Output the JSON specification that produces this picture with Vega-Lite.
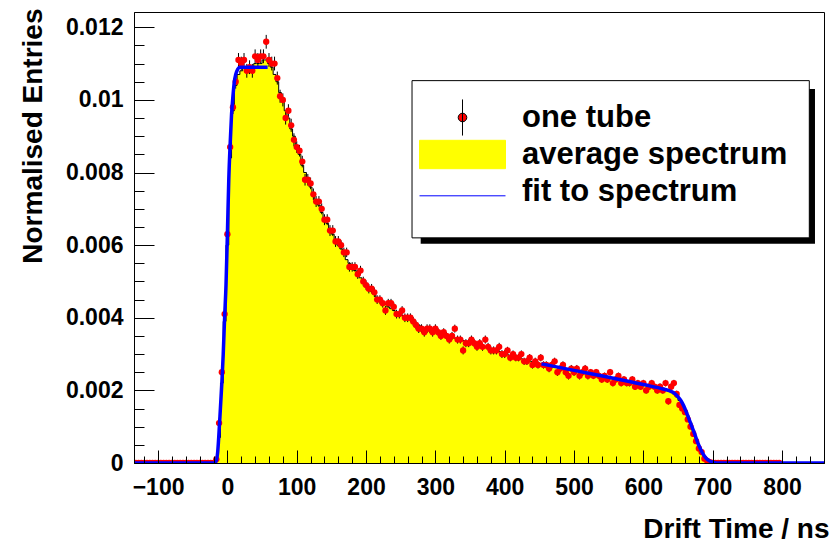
{
"$schema":"https://vega.github.io/schema/vega-lite/v6.json",
"width":690,"height":451,
"autosize":{"type":"none"},
"padding":{"left":134,"top":12,"right":12,"bottom":82},
"background":"white",
"config":{"view":{"stroke":"#000","strokeWidth":1},"font":"Liberation Sans",
 "legend":{"title":null,"orient":"none","legendX":285,"legendY":87,"padding":0,"symbolSize":7396,"symbolStrokeWidth":1,"clipHeight":37,"rowPadding":0,"labelOffset":16,"labelFont":"Liberation Sans","labelFontWeight":"bold","labelFontSize":31,"labelColor":"#000","labelLimit":600}},
"datasets":{
"hist":[
{"t":-132,"a":0},{"t":-128,"a":0},{"t":-124,"a":0},{"t":-120,"a":0},{"t":-116,"a":0},{"t":-112,"a":0},{"t":-108,"a":0},{"t":-104,"a":0},{"t":-100,"a":0},{"t":-96,"a":0},{"t":-92,"a":0},{"t":-88,"a":0},{"t":-84,"a":0},{"t":-80,"a":0},{"t":-76,"a":0},{"t":-72,"a":0},{"t":-68,"a":0},{"t":-64,"a":0},{"t":-60,"a":0},{"t":-56,"a":0},{"t":-52,"a":0},{"t":-48,"a":0},{"t":-44,"a":0},{"t":-40,"a":0},{"t":-36,"a":0},{"t":-32,"a":0},{"t":-28,"a":0},{"t":-24,"a":0},{"t":-20,"a":0},
{"t":-16,"a":0.00004},{"t":-12,"a":0.0007},{"t":-8,"a":0.0022},{"t":-4,"a":0.0039},{"t":0,"a":0.006},{"t":4,"a":0.0084},{"t":8,"a":0.0097},{"t":12,"a":0.0104},{"t":16,"a":0.0107},{"t":20,"a":0.0108},{"t":24,"a":0.0109},{"t":28,"a":0.0108},{"t":32,"a":0.0109},{"t":36,"a":0.0109},{"t":40,"a":0.011},{"t":44,"a":0.011},{"t":48,"a":0.011},{"t":52,"a":0.0111},{"t":56,"a":0.0111},{"t":60,"a":0.011},{"t":64,"a":0.0109},{"t":68,"a":0.0107},{"t":72,"a":0.0105},{"t":76,"a":0.0102},{"t":80,"a":0.01},{"t":84,"a":0.0097},{"t":88,"a":0.0095},{"t":92,"a":0.0092},{"t":96,"a":0.009},{"t":100,"a":0.0087},{"t":104,"a":0.0085},{"t":108,"a":0.0082},{"t":112,"a":0.008},{"t":116,"a":0.0078},{"t":120,"a":0.0076},{"t":124,"a":0.0074},{"t":128,"a":0.0072},{"t":132,"a":0.0071},{"t":136,"a":0.0069},{"t":140,"a":0.0067},{"t":144,"a":0.0066},{"t":148,"a":0.0064},{"t":152,"a":0.0063},{"t":156,"a":0.0061},{"t":160,"a":0.006},{"t":164,"a":0.0059},{"t":168,"a":0.0058},{"t":172,"a":0.0056},{"t":176,"a":0.0055},{"t":180,"a":0.0054},{"t":184,"a":0.0053},{"t":188,"a":0.0052},{"t":192,"a":0.0051},{"t":196,"a":0.005},
{"t":200,"a":0.0049},{"t":204,"a":0.0048},{"t":208,"a":0.00472},{"t":212,"a":0.00464},{"t":216,"a":0.00456},{"t":220,"a":0.00449},{"t":224,"a":0.00442},{"t":228,"a":0.00436},{"t":232,"a":0.0043},{"t":236,"a":0.00425},{"t":240,"a":0.0042},{"t":244,"a":0.00415},{"t":248,"a":0.0041},{"t":252,"a":0.00406},{"t":256,"a":0.00403},{"t":260,"a":0.004},{"t":264,"a":0.00395},{"t":268,"a":0.0039},{"t":272,"a":0.00384},{"t":276,"a":0.0038},{"t":280,"a":0.00376},{"t":284,"a":0.00372},{"t":288,"a":0.00369},{"t":292,"a":0.00366},{"t":296,"a":0.00364},{"t":300,"a":0.00362},{"t":304,"a":0.0036},{"t":308,"a":0.00357},{"t":312,"a":0.00355},{"t":316,"a":0.00352},{"t":320,"a":0.0035},{"t":324,"a":0.00347},{"t":328,"a":0.00344},{"t":332,"a":0.00342},{"t":336,"a":0.0034},{"t":340,"a":0.00337},{"t":344,"a":0.00335},{"t":348,"a":0.00333},{"t":352,"a":0.0033},{"t":356,"a":0.00328},{"t":360,"a":0.00326},{"t":364,"a":0.00324},{"t":368,"a":0.00322},{"t":372,"a":0.0032},{"t":376,"a":0.00318},{"t":380,"a":0.00315},{"t":384,"a":0.00312},{"t":388,"a":0.0031},{"t":392,"a":0.00307},{"t":396,"a":0.00304},
{"t":400,"a":0.00301},{"t":404,"a":0.00298},{"t":408,"a":0.00296},{"t":412,"a":0.00294},{"t":416,"a":0.00291},{"t":420,"a":0.00289},{"t":424,"a":0.00287},{"t":428,"a":0.00285},{"t":432,"a":0.00283},{"t":436,"a":0.00281},{"t":440,"a":0.00279},{"t":444,"a":0.00277},{"t":448,"a":0.00275},{"t":452,"a":0.00273},{"t":456,"a":0.00272},{"t":460,"a":0.0027},{"t":464,"a":0.00269},{"t":468,"a":0.00267},{"t":472,"a":0.00265},{"t":476,"a":0.00264},{"t":480,"a":0.00262},{"t":484,"a":0.00261},{"t":488,"a":0.00259},{"t":492,"a":0.00257},{"t":496,"a":0.00256},{"t":500,"a":0.00254},{"t":504,"a":0.00253},{"t":508,"a":0.00251},{"t":512,"a":0.00249},{"t":516,"a":0.00248},{"t":520,"a":0.00246},{"t":524,"a":0.00245},{"t":528,"a":0.00243},{"t":532,"a":0.00241},{"t":536,"a":0.0024},{"t":540,"a":0.00238},{"t":544,"a":0.00237},{"t":548,"a":0.00235},{"t":552,"a":0.00233},{"t":556,"a":0.00232},{"t":560,"a":0.0023},{"t":564,"a":0.00229},{"t":568,"a":0.00227},{"t":572,"a":0.00225},{"t":576,"a":0.00224},{"t":580,"a":0.00222},{"t":584,"a":0.00221},{"t":588,"a":0.00219},{"t":592,"a":0.00217},{"t":596,"a":0.00216},
{"t":600,"a":0.00214},{"t":604,"a":0.00213},{"t":608,"a":0.00211},{"t":612,"a":0.00209},{"t":616,"a":0.00208},{"t":620,"a":0.00206},{"t":624,"a":0.00205},{"t":628,"a":0.00203},{"t":632,"a":0.00201},{"t":636,"a":0.002},{"t":640,"a":0.00196},{"t":644,"a":0.0019},{"t":648,"a":0.00182},{"t":652,"a":0.00172},{"t":656,"a":0.0016},{"t":660,"a":0.00146},{"t":664,"a":0.0013},{"t":668,"a":0.00111},{"t":672,"a":0.0009},{"t":676,"a":0.00068},{"t":680,"a":0.00046},{"t":684,"a":0.00027},{"t":688,"a":0.00013},{"t":692,"a":0.00005},{"t":696,"a":0.00002},
{"t":700,"a":0},{"t":704,"a":0},{"t":708,"a":0},{"t":712,"a":0},{"t":716,"a":0},{"t":720,"a":0},{"t":724,"a":0},{"t":728,"a":0},{"t":732,"a":0},{"t":736,"a":0},{"t":740,"a":0},{"t":744,"a":0},{"t":748,"a":0},{"t":752,"a":0},{"t":756,"a":0},{"t":760,"a":0},{"t":764,"a":0},{"t":768,"a":0},{"t":772,"a":0},{"t":776,"a":0},{"t":780,"a":0},{"t":784,"a":0},{"t":788,"a":0},{"t":792,"a":0},{"t":796,"a":0},{"t":800,"a":0},{"t":804,"a":0},{"t":808,"a":0},{"t":812,"a":0},{"t":816,"a":0},{"t":820,"a":0},{"t":824,"a":0},{"t":828,"a":0},{"t":832,"a":0},{"t":836,"a":0},{"t":840,"a":0},{"t":844,"a":0},{"t":848,"a":0},{"t":852,"a":0},{"t":856,"a":0},{"t":860,"a":0}
],
"tube":[
{"t":-132,"o":0,"e":0},{"t":-128,"o":0,"e":0},{"t":-124,"o":0,"e":0},{"t":-120,"o":0,"e":0},{"t":-116,"o":0,"e":0},{"t":-112,"o":0,"e":0},{"t":-108,"o":0,"e":0},{"t":-104,"o":0,"e":0},{"t":-100,"o":0,"e":0},{"t":-96,"o":0,"e":0},{"t":-92,"o":0,"e":0},{"t":-88,"o":0,"e":0},{"t":-84,"o":0,"e":0},{"t":-80,"o":0,"e":0},{"t":-76,"o":0,"e":0},{"t":-72,"o":0,"e":0},{"t":-68,"o":0,"e":0},{"t":-64,"o":0,"e":0},{"t":-60,"o":0,"e":0},{"t":-56,"o":0,"e":0},{"t":-52,"o":0,"e":0},{"t":-48,"o":0,"e":0},{"t":-44,"o":0,"e":0},{"t":-40,"o":0,"e":0},{"t":-36,"o":0,"e":0},{"t":-32,"o":0,"e":0},{"t":-28,"o":0,"e":0},{"t":-24,"o":0,"e":0},{"t":-20,"o":0,"e":0},
{"t":-16,"o":0.0001,"e":0.00002},{"t":-12,"o":0.0011,"e":0.00006},{"t":-8,"o":0.0025,"e":0.00009},{"t":-4,"o":0.0041,"e":0.00012},{"t":0,"o":0.0063,"e":0.00015},{"t":4,"o":0.0087,"e":0.00017},{"t":8,"o":0.0098,"e":0.00019},{"t":12,"o":0.0105,"e":0.00019},{"t":16,"o":0.0111,"e":0.00019},{"t":20,"o":0.011,"e":0.00019},{"t":24,"o":0.0111,"e":0.00019},{"t":28,"o":0.0108,"e":0.00019},{"t":32,"o":0.0109,"e":0.00019},{"t":36,"o":0.0108,"e":0.00019},{"t":40,"o":0.0112,"e":0.00019},{"t":44,"o":0.0111,"e":0.00019},{"t":48,"o":0.0112,"e":0.00019},{"t":52,"o":0.0112,"e":0.00019},{"t":56,"o":0.0116,"e":0.00019},{"t":60,"o":0.0111,"e":0.00019},{"t":64,"o":0.011,"e":0.00019},{"t":68,"o":0.011,"e":0.00019},{"t":72,"o":0.0106,"e":0.00018},{"t":76,"o":0.0101,"e":0.00018},{"t":80,"o":0.01,"e":0.00018},{"t":84,"o":0.0095,"e":0.00018},{"t":88,"o":0.0097,"e":0.00018},{"t":92,"o":0.0093,"e":0.00018},{"t":96,"o":0.0089,"e":0.00018},{"t":100,"o":0.0087,"e":0.00016},{"t":104,"o":0.0086,"e":0.00016},{"t":108,"o":0.0083,"e":0.00016},{"t":112,"o":0.0078,"e":0.00016},{"t":116,"o":0.0078,"e":0.00016},{"t":120,"o":0.0077,"e":0.00016},{"t":124,"o":0.0074,"e":0.00016},{"t":128,"o":0.0072,"e":0.00015},{"t":132,"o":0.0072,"e":0.00015},{"t":136,"o":0.007,"e":0.00015},{"t":140,"o":0.0067,"e":0.00015},{"t":144,"o":0.0067,"e":0.00015},{"t":148,"o":0.0064,"e":0.00015},{"t":152,"o":0.0064,"e":0.00015},{"t":156,"o":0.0061,"e":0.00015},{"t":160,"o":0.0061,"e":0.00015},{"t":164,"o":0.006,"e":0.00013},{"t":168,"o":0.0058,"e":0.00013},{"t":172,"o":0.0058,"e":0.00013},{"t":176,"o":0.0054,"e":0.00013},{"t":180,"o":0.0054,"e":0.00013},{"t":184,"o":0.0054,"e":0.00013},{"t":188,"o":0.0052,"e":0.00013},{"t":192,"o":0.0053,"e":0.00013},{"t":196,"o":0.005,"e":0.00013},
{"t":200,"o":0.0049,"e":0.00013},{"t":204,"o":0.0048,"e":0.00013},{"t":208,"o":0.0048,"e":0.00013},{"t":212,"o":0.0047,"e":0.00013},{"t":216,"o":0.0045,"e":0.00012},{"t":220,"o":0.0045,"e":0.00012},{"t":224,"o":0.0044,"e":0.00012},{"t":228,"o":0.0042,"e":0.00012},{"t":232,"o":0.0044,"e":0.00012},{"t":236,"o":0.0044,"e":0.00012},{"t":240,"o":0.0043,"e":0.00012},{"t":244,"o":0.0041,"e":0.00012},{"t":248,"o":0.0041,"e":0.00012},{"t":252,"o":0.0042,"e":0.00012},{"t":256,"o":0.004,"e":0.00012},{"t":260,"o":0.004,"e":0.00012},{"t":264,"o":0.004,"e":0.00012},{"t":268,"o":0.0039,"e":0.00012},{"t":272,"o":0.0038,"e":0.00012},{"t":276,"o":0.0037,"e":0.00012},{"t":280,"o":0.0037,"e":0.00012},{"t":284,"o":0.0036,"e":0.00012},{"t":288,"o":0.0037,"e":0.00012},{"t":292,"o":0.0037,"e":0.00012},{"t":296,"o":0.0036,"e":0.00012},{"t":300,"o":0.0037,"e":0.00012},{"t":304,"o":0.0036,"e":0.00011},{"t":308,"o":0.0035,"e":0.00011},{"t":312,"o":0.0036,"e":0.00011},{"t":316,"o":0.0035,"e":0.00011},{"t":320,"o":0.0034,"e":0.00011},{"t":324,"o":0.0035,"e":0.00011},{"t":328,"o":0.0037,"e":0.00011},{"t":332,"o":0.0034,"e":0.00011},{"t":336,"o":0.0034,"e":0.00011},{"t":340,"o":0.0031,"e":0.00011},{"t":344,"o":0.0033,"e":0.00011},{"t":348,"o":0.0033,"e":0.00011},{"t":352,"o":0.0034,"e":0.00011},{"t":356,"o":0.0033,"e":0.00011},{"t":360,"o":0.0032,"e":0.00011},{"t":364,"o":0.0033,"e":0.00011},{"t":368,"o":0.0032,"e":0.00011},{"t":372,"o":0.0034,"e":0.00011},{"t":376,"o":0.0032,"e":0.00011},{"t":380,"o":0.0031,"e":0.00011},{"t":384,"o":0.0031,"e":0.00011},{"t":388,"o":0.0031,"e":0.00011},{"t":392,"o":0.0032,"e":0.00011},{"t":396,"o":0.003,"e":0.00011},
{"t":400,"o":0.003,"e":0.00011},{"t":404,"o":0.0031,"e":0.0001},{"t":408,"o":0.0029,"e":0.0001},{"t":412,"o":0.003,"e":0.0001},{"t":416,"o":0.0029,"e":0.0001},{"t":420,"o":0.0029,"e":0.0001},{"t":424,"o":0.003,"e":0.0001},{"t":428,"o":0.0028,"e":0.0001},{"t":432,"o":0.0028,"e":0.0001},{"t":436,"o":0.0029,"e":0.0001},{"t":440,"o":0.0027,"e":0.0001},{"t":444,"o":0.0028,"e":0.0001},{"t":448,"o":0.0027,"e":0.0001},{"t":452,"o":0.0029,"e":0.0001},{"t":456,"o":0.0027,"e":0.0001},{"t":460,"o":0.0027,"e":0.0001},{"t":464,"o":0.0026,"e":0.0001},{"t":468,"o":0.0027,"e":0.0001},{"t":472,"o":0.0028,"e":0.0001},{"t":476,"o":0.0025,"e":0.0001},{"t":480,"o":0.0026,"e":0.0001},{"t":484,"o":0.0027,"e":0.0001},{"t":488,"o":0.0025,"e":0.0001},{"t":492,"o":0.0024,"e":0.0001},{"t":496,"o":0.0026,"e":0.0001},{"t":500,"o":0.0025,"e":0.0001},{"t":504,"o":0.0026,"e":0.0001},{"t":508,"o":0.0024,"e":0.0001},{"t":512,"o":0.0025,"e":0.0001},{"t":516,"o":0.0026,"e":0.0001},{"t":520,"o":0.0024,"e":0.0001},{"t":524,"o":0.0025,"e":0.00009},{"t":528,"o":0.0024,"e":0.00009},{"t":532,"o":0.0025,"e":0.00009},{"t":536,"o":0.0024,"e":0.00009},{"t":540,"o":0.0023,"e":0.00009},{"t":544,"o":0.0024,"e":0.00009},{"t":548,"o":0.0023,"e":0.00009},{"t":552,"o":0.0025,"e":0.00009},{"t":556,"o":0.0022,"e":0.00009},{"t":560,"o":0.0023,"e":0.00009},{"t":564,"o":0.0024,"e":0.00009},{"t":568,"o":0.0022,"e":0.00009},{"t":572,"o":0.0023,"e":0.00009},{"t":576,"o":0.0022,"e":0.00009},{"t":580,"o":0.0022,"e":0.00009},{"t":584,"o":0.0023,"e":0.00009},{"t":588,"o":0.0021,"e":0.00009},{"t":592,"o":0.0022,"e":0.00009},{"t":596,"o":0.0021,"e":0.00009},
{"t":600,"o":0.0022,"e":0.00009},{"t":604,"o":0.002,"e":0.00009},{"t":608,"o":0.0021,"e":0.00009},{"t":612,"o":0.0022,"e":0.00009},{"t":616,"o":0.0021,"e":0.00009},{"t":620,"o":0.002,"e":0.00009},{"t":624,"o":0.0021,"e":0.00009},{"t":628,"o":0.002,"e":0.00009},{"t":632,"o":0.0022,"e":0.00009},{"t":636,"o":0.0017,"e":0.00009},{"t":640,"o":0.0021,"e":0.00009},{"t":644,"o":0.0022,"e":0.00009},{"t":648,"o":0.0019,"e":0.00009},{"t":652,"o":0.0016,"e":0.00007},{"t":656,"o":0.0015,"e":0.00007},{"t":660,"o":0.0014,"e":0.00007},{"t":664,"o":0.0012,"e":0.00007},{"t":668,"o":0.001,"e":0.00007},{"t":672,"o":0.0008,"e":0.00005},{"t":676,"o":0.0006,"e":0.00005},{"t":680,"o":0.0004,"e":0.00005},{"t":684,"o":0.0003,"e":0.00003},{"t":688,"o":0.00012,"e":0.00003},{"t":692,"o":0.00006,"e":0.00003},{"t":696,"o":0.00002,"e":0.00003},
{"t":700,"o":0,"e":0},{"t":704,"o":0,"e":0},{"t":708,"o":0,"e":0},{"t":712,"o":0,"e":0},{"t":716,"o":0,"e":0},{"t":720,"o":0,"e":0},{"t":724,"o":0,"e":0},{"t":728,"o":0,"e":0},{"t":732,"o":0,"e":0},{"t":736,"o":0,"e":0},{"t":740,"o":0,"e":0},{"t":744,"o":0,"e":0},{"t":748,"o":0,"e":0},{"t":752,"o":0,"e":0},{"t":756,"o":0,"e":0},{"t":760,"o":0,"e":0},{"t":764,"o":0,"e":0},{"t":768,"o":0,"e":0},{"t":772,"o":0,"e":0},{"t":776,"o":0,"e":0},{"t":780,"o":0,"e":0},{"t":784,"o":0,"e":0},{"t":788,"o":0,"e":0},{"t":792,"o":0,"e":0},{"t":796,"o":0,"e":0}
],
"fit":[
{"t":-134.7,"f":0,"s":1},{"t":-20,"f":0,"s":1},{"t":-17,"f":0.00002,"s":1},{"t":-14,"f":0.0003,"s":1},{"t":-11,"f":0.0012,"s":1},{"t":-8,"f":0.0022,"s":1},{"t":-6,"f":0.003,"s":1},{"t":-4,"f":0.004,"s":1},{"t":-2,"f":0.0049,"s":1},{"t":0,"f":0.0063,"s":1},{"t":2,"f":0.0078,"s":1},{"t":4,"f":0.0088,"s":1},{"t":6,"f":0.0096,"s":1},{"t":8,"f":0.0101,"s":1},{"t":10,"f":0.0105,"s":1},{"t":12,"f":0.0107,"s":1},{"t":15,"f":0.01085,"s":1},{"t":18,"f":0.0109,"s":1},{"t":58,"f":0.0109,"s":1},
{"t":453,"f":0.00273,"s":2},{"t":500,"f":0.00255,"s":2},{"t":550,"f":0.00236,"s":2},{"t":600,"f":0.00216,"s":2},{"t":630,"f":0.00203,"s":2},{"t":640,"f":0.00197,"s":2},{"t":646,"f":0.0019,"s":2},{"t":650,"f":0.00182,"s":2},{"t":654,"f":0.00172,"s":2},{"t":658,"f":0.00158,"s":2},{"t":662,"f":0.0014,"s":2},{"t":666,"f":0.0012,"s":2},{"t":670,"f":0.001,"s":2},{"t":674,"f":0.0008,"s":2},{"t":678,"f":0.00058,"s":2},{"t":682,"f":0.0004,"s":2},{"t":686,"f":0.00025,"s":2},{"t":690,"f":0.00014,"s":2},{"t":695,"f":0.00006,"s":2},{"t":700,"f":0.00002,"s":2},{"t":706,"f":0,"s":2},{"t":860.5,"f":0,"s":2}
],
"boxes":[
{"k":"shadow","x1":278.8,"x2":847.5,"y1":0.00604,"y2":0.0103},
{"k":"box","x1":266.3,"x2":839.3,"y1":0.0062,"y2":0.01053}
]
},
"layer":[
{"data":{"name":"hist"},
 "mark":{"type":"area","interpolate":"step","color":"#ffff00","opacity":1,"clip":true},
 "encoding":{
  "x":{"field":"t","type":"quantitative","scale":{"domain":[-134.7,860.5],"nice":false,"zero":false},
   "axis":{"orient":"bottom","values":[-100,0,100,200,300,400,500,600,700,800],"format":"d","tickSize":-13,"tickWidth":1,"tickColor":"#000","domainColor":"#000","domainWidth":1,"labelFont":"Liberation Sans","labelFontWeight":"bold","labelFontSize":23,"labelColor":"#000","labelPadding":26,"labelBaseline":"top","labelFlush":false,"labelOverlap":false,"grid":false,"title":"Drift Time / ns","titleFont":"Liberation Sans","titleFontWeight":"bold","titleFontSize":28,"titleColor":"#000","titleAlign":"right","titleX":695,"titleY":74,"titleBaseline":"alphabetic","zindex":1}},
  "y":{"field":"a","type":"quantitative","scale":{"domain":[0,0.01242],"nice":false,"zero":false},
   "axis":{"orient":"left","values":[0,0.002,0.004,0.006,0.008,0.01,0.012],"format":"~g","tickSize":-20,"tickWidth":1,"tickColor":"#000","domainColor":"#000","domainWidth":1,"labelFont":"Liberation Sans","labelFontWeight":"bold","labelFontSize":23,"labelColor":"#000","labelPadding":31,"labelAlign":"right","labelBaseline":"middle","labelFlush":false,"labelOverlap":false,"grid":false,"title":"Normalised Entries","titleFont":"Liberation Sans","titleFontWeight":"bold","titleFontSize":28,"titleColor":"#000","titleAngle":-90,"titleAlign":"right","titleX":-93,"titleY":-4,"titleBaseline":"alphabetic","zindex":1}}
 }},
{"data":{"name":"hist"},
 "mark":{"type":"line","interpolate":"step","color":"#000","strokeWidth":1,"clip":true},
 "encoding":{
  "x":{"field":"t","type":"quantitative","scale":{"domain":[-134.7,860.5],"nice":false,"zero":false},
   "axis":{"orient":"bottom","values":[-120,-80,-60,-40,-20,20,40,60,80,120,140,160,180,220,240,260,280,320,340,360,380,420,440,460,480,520,540,560,580,620,640,660,680,720,740,760,780,820,840,860],"tickSize":-7,"tickWidth":1,"tickColor":"#000","labels":false,"domain":false,"grid":false,"title":null,"zindex":1}},
  "y":{"field":"a","type":"quantitative","scale":{"domain":[0,0.01242],"nice":false,"zero":false},
   "axis":{"orient":"left","values":[0.0005,0.001,0.0015,0.0025,0.003,0.0035,0.0045,0.005,0.0055,0.0065,0.007,0.0075,0.0085,0.009,0.0095,0.0105,0.011,0.0115],"tickSize":-10,"tickWidth":1,"tickColor":"#000","labels":false,"domain":false,"grid":false,"title":null,"zindex":1}}
 }},
{"data":{"name":"tube"},
 "mark":{"type":"errorbar","ticks":false,"rule":{"color":"#000","strokeWidth":1},"clip":true},
 "encoding":{
  "x":{"field":"t","type":"quantitative","scale":{"domain":[-134.7,860.5],"nice":false,"zero":false},"axis":null},
  "y":{"field":"o","type":"quantitative","scale":{"domain":[0,0.01242],"nice":false,"zero":false},"axis":null},
  "yError":{"field":"e"}
 }},
{"data":{"name":"tube"},
 "mark":{"type":"circle","size":40,"color":"#ff0000","opacity":1,"clip":true},
 "encoding":{
  "x":{"field":"t","type":"quantitative","scale":{"domain":[-134.7,860.5],"nice":false,"zero":false},"axis":null},
  "y":{"field":"o","type":"quantitative","scale":{"domain":[0,0.01242],"nice":false,"zero":false},"axis":null}
 }},
{"data":{"name":"fit"},
 "mark":{"type":"line","interpolate":"monotone","strokeWidth":3.5,"clip":true},
 "encoding":{
  "x":{"field":"t","type":"quantitative","scale":{"domain":[-134.7,860.5],"nice":false,"zero":false},"axis":null},
  "y":{"field":"f","type":"quantitative","scale":{"domain":[0,0.01242],"nice":false,"zero":false},"axis":null},
  "detail":{"field":"s","type":"nominal"},
  "color":{"datum":"fit to spectrum","type":"nominal",
   "scale":{"domain":["one tube","average spectrum","fit to spectrum"],"range":["#000000","#ffff00","#0000ff"]},
   "legend":{"encode":{"symbols":{"update":{
     "shape":{"signal":"datum.value === 'one tube' ? 'M0,-0.42V0.42M-0.1,0A0.1,0.1 0 1 1 0.1,0A0.1,0.1 0 1 1 -0.1,0Z' : datum.value === 'average spectrum' ? 'M-1,-0.33H1V0.33H-1Z' : 'M-1,0.1H1'"},
     "fill":{"signal":"datum.value === 'one tube' ? '#ff0000' : datum.value === 'average spectrum' ? '#ffff00' : 'transparent'"},
     "strokeWidth":{"value":1},
     "opacity":{"value":1}}}}}}
 }},
{"data":{"name":"boxes"},
 "transform":[{"filter":"datum.k === 'shadow'"}],
 "mark":{"type":"rect","color":"#000","opacity":1},
 "encoding":{
  "x":{"field":"x1","type":"quantitative","scale":{"domain":[-134.7,860.5],"nice":false,"zero":false},"axis":null},
  "x2":{"field":"x2"},
  "y":{"field":"y1","type":"quantitative","scale":{"domain":[0,0.01242],"nice":false,"zero":false},"axis":null},
  "y2":{"field":"y2"}
 }},
{"data":{"name":"boxes"},
 "transform":[{"filter":"datum.k === 'box'"}],
 "mark":{"type":"rect","fill":"#fff","stroke":"#000","strokeWidth":1,"opacity":1},
 "encoding":{
  "x":{"field":"x1","type":"quantitative","scale":{"domain":[-134.7,860.5],"nice":false,"zero":false},"axis":null},
  "x2":{"field":"x2"},
  "y":{"field":"y1","type":"quantitative","scale":{"domain":[0,0.01242],"nice":false,"zero":false},"axis":null},
  "y2":{"field":"y2"}
 }}
],
"resolve":{"axis":{"x":"independent","y":"independent"}}
}
